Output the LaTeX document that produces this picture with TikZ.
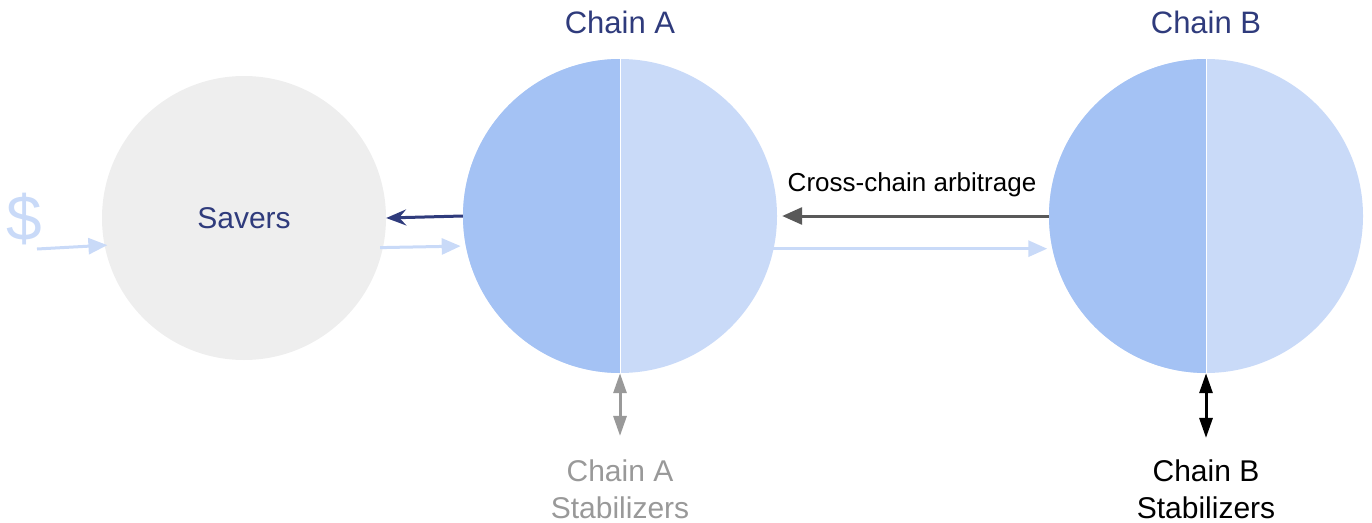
\documentclass[tikz,border=0pt]{standalone}
\usepackage{fontspec}
\setmainfont{Liberation Sans}
\usetikzlibrary{arrows.meta,calc}
\definecolor{darkhalf}{HTML}{A4C2F4}
\definecolor{lighthalf}{HTML}{C9DAF8}
\definecolor{saverfill}{HTML}{EEEEEE}
\definecolor{navy}{HTML}{2F3B7C}
\definecolor{arbgray}{HTML}{595959}
\definecolor{stabgray}{HTML}{999999}
\begin{document}
\begin{tikzpicture}[x=1pt,y=-1pt,
  chainc/.style={circle, minimum size=314pt, inner sep=0pt, fill=lighthalf,
    path picture={
      \fill[darkhalf] (path picture bounding box.north west) rectangle (path picture bounding box.south);
      \draw[white, line width=1pt] (path picture bounding box.north) -- (path picture bounding box.south);}},
  saverc/.style={circle, minimum size=284pt, inner sep=0pt, fill=saverfill},
  title/.style={text=navy, font=\fontsize{31}{37}\selectfont},
  stab/.style={align=center, font=\fontsize{30}{37}\selectfont},
  flow/.style={lighthalf, line width=3pt, -{Triangle[length=19pt,width=16pt]}},
  back/.style={line width=3pt, -{Triangle[length=20pt,width=17pt]}},
  dbl/.style={line width=3pt, {Triangle[length=20pt,width=13pt]}-{Triangle[length=20pt,width=13pt]}}
]
\useasboundingbox (0,0) rectangle (1372,522);

\node[saverc] (savers) at (244,218) {};
\node[text=navy, font=\fontsize{30}{36}\selectfont] (saverslbl) at (244,218) {Savers};
\node[chainc] (chainA) at (620,216) {};
\node[chainc] (chainB) at (1206,216) {};

\node[title] (titleA) at (620,22) {Chain A};
\node[title] (titleB) at (1206,22) {Chain B};

\node[text=lighthalf, font=\fontsize{64}{70}\selectfont, inner sep=0pt] (dollar) at (24,219) {\$};
\coordinate (dollarout) at (37,249);

\node[stab, text=stabgray] (stabA) at (620,489) {Chain A\\Stabilizers};
\node[stab, text=black] (stabB) at (1206,489) {Chain B\\Stabilizers};

\node[font=\fontsize{26}{30}\selectfont] (arblbl) at (912,185) {Cross-chain arbitrage};

% flows
\draw[flow] (dollarout) -- ([xshift=3pt]savers.191);
\draw[flow, shorten <=-3pt, shorten >=5pt] (savers.-12.5) -- (chainA.191.8);
\draw[flow, shorten <=-8pt, shorten >=5pt] (chainA.-12) -- (chainB.192);

\draw[navy, line width=3pt, -{Stealth[length=20pt,width=16pt,inset=7pt]}] (chainA.west) -- (savers.east);
\draw[back, arbgray, shorten >=5pt] (chainB.west) -- (chainA.east);

\draw[dbl, stabgray, shorten >=20pt] (chainA.south) -- (stabA.north);
\draw[dbl, black, shorten >=18pt] (chainB.south) -- (stabB.north);
\end{tikzpicture}
\end{document}
